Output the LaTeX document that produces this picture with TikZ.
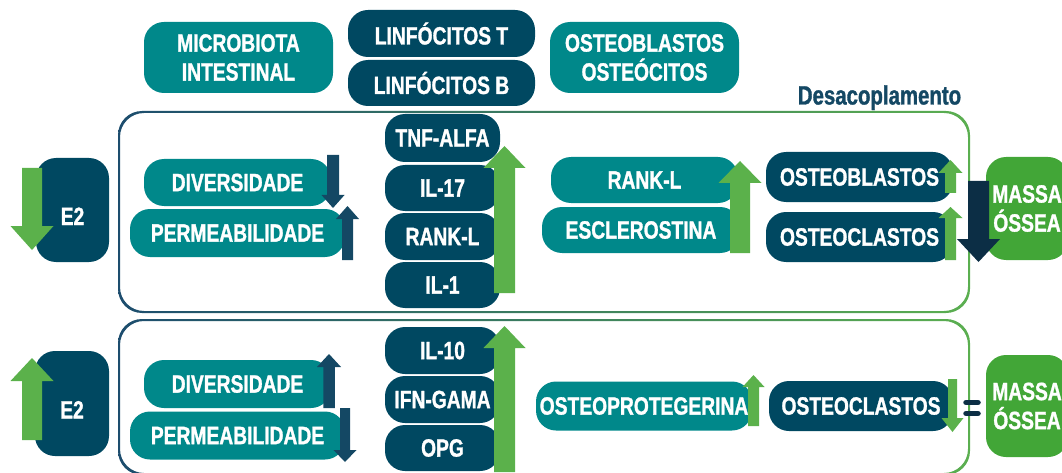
\documentclass[tikz,border=0pt]{standalone}
\usepackage{fontspec}
\setmainfont{Liberation Sans}[FakeStretch=0.77, BoldFeatures={FakeBold=1.2}]
\usepackage{tikz}
\usepackage{xcolor}

\definecolor{verdeagua}{RGB}{0,136,138}
\definecolor{azulesc}{RGB}{0,72,97}
\definecolor{setaverde}{RGB}{91,177,75}
\definecolor{setaazul}{RGB}{20,72,100}
\definecolor{setaescura}{RGB}{12,46,69}
\definecolor{verdemassa}{RGB}{66,166,55}
\definecolor{molduraA}{RGB}{28,76,110}
\definecolor{molduraB}{RGB}{34,148,208}
\definecolor{molduraC}{RGB}{92,176,80}

% seta em bloco vertical: cor, x, cauda, base da ponta, ponta, meia largura haste, meia largura ponta
\newcommand{\setabloco}[7]{\fill[#1] ({#2-#6},#3) -- ({#2+#6},#3) -- ({#2+#6},#4) -- ({#2+#7},#4) -- (#2,#5) -- ({#2-#7},#4) -- ({#2-#6},#4) -- cycle;}

\tikzset{
  caixa/.style={rounded corners=20pt, text=white, font=\bfseries\fontsize{25}{29}\selectfont, inner sep=0pt, align=center},
  tealbox/.style={caixa, fill=verdeagua},
  navybox/.style={caixa, fill=azulesc},
  massbox/.style={caixa, fill=verdemassa},
}

\begin{document}
\begin{tikzpicture}[x=1pt,y=-1pt]
\useasboundingbox (0,0) rectangle (1062,473);
\clip (0,0) rectangle (1062,473);

% molduras
\begin{scope}[even odd rule, rounded corners=24pt]
\clip (118,111) rectangle (970,313) (120,113) rectangle (968,311);
\shade[left color=molduraA, middle color=molduraB, right color=molduraC, sharp corners] (110,100) rectangle (980,320);
\end{scope}
\begin{scope}[even odd rule, rounded corners=24pt]
\clip (118,319) rectangle (970,475) (120,321) rectangle (968,473);
\shade[left color=molduraA, middle color=molduraB, right color=molduraC, sharp corners] (110,310) rectangle (980,480);
\end{scope}

% linha superior
\node[tealbox, minimum width=189pt, minimum height=71pt] (micro) at (238.5,57.5) {MICROBIOTA\\INTESTINAL};
\node[navybox, minimum width=187pt, minimum height=47pt] (linfT) at (441.5,33.5) {LINFÓCITOS T};
\node[navybox, minimum width=187pt, minimum height=46pt] (linfB) at (441.5,83) {LINFÓCITOS B};
\node[tealbox, minimum width=189pt, minimum height=71pt] (osteoc) at (644.5,57.5) {OSTEOBLASTOS\\OSTEÓCITOS};
\node[font=\bfseries\fontsize{26.5}{30}\selectfont, text=setaazul, anchor=base, inner sep=0pt] (desac) at (879.5,104.5) {Desacoplamento};

% E2 baixo
\node[navybox, minimum width=73pt, minimum height=104pt] (e2baixo) at (72.5,210) {\raisebox{-15pt}[0pt][0pt]{E2}};
\node[tealbox, minimum width=187pt, minimum height=47pt] (div1) at (237.5,182.5) {DIVERSIDADE};
\node[tealbox, minimum width=215pt, minimum height=48pt] (perm1) at (237.5,233) {PERMEABILIDADE};
\node[navybox, minimum width=115pt, minimum height=48pt] (tnf) at (442.5,138) {TNF-ALFA};
\node[navybox, minimum width=115pt, minimum height=46pt] (il17) at (442.5,188) {IL-17};
\node[navybox, minimum width=115pt, minimum height=47pt] (rankA) at (442.5,236.5) {RANK-L};
\node[navybox, minimum width=115pt, minimum height=46pt] (il1) at (442.5,285) {IL-1};
\node[tealbox, minimum width=187pt, minimum height=46pt] (rankB) at (644.5,180) {RANK-L};
\node[tealbox, minimum width=198pt, minimum height=46pt] (escl) at (641,230) {ESCLEROSTINA};
\node[navybox, minimum width=187pt, minimum height=50pt] (oblast) at (859.5,177) {OSTEOBLASTOS};
\node[navybox, minimum width=187pt, minimum height=50pt] (oclastA) at (859.5,237) {OSTEOCLASTOS};
\node[massbox, minimum width=82pt, minimum height=103pt] (massaA) at (1027,208.5) {MASSA\\ÓSSEA};

% E2 alto
\node[navybox, minimum width=74pt, minimum height=105pt] (e2alto) at (72,403.5) {\raisebox{-15pt}[0pt][0pt]{E2}};
\node[tealbox, minimum width=187pt, minimum height=48pt] (div2) at (237.5,384) {DIVERSIDADE};
\node[tealbox, minimum width=215pt, minimum height=48pt] (perm2) at (237.5,435.5) {PERMEABILIDADE};
\node[navybox, minimum width=115pt, minimum height=47pt] (il10) at (442.5,350.5) {IL-10};
\node[navybox, minimum width=115pt, minimum height=47pt] (ifn) at (442.5,399.5) {IFN-GAMA};
\node[navybox, minimum width=115pt, minimum height=46pt] (opg) at (442.5,448) {OPG};
\node[tealbox, minimum width=216pt, minimum height=49pt] (oprot) at (644,406) {OSTEOPROTEGERINA};
\node[navybox, minimum width=184pt, minimum height=50pt] (oclastB) at (861,406) {OSTEOCLASTOS};
\node[massbox, minimum width=82pt, minimum height=102pt] (massaB) at (1027,406) {MASSA\\ÓSSEA};

% setas
\setabloco{setaverde}{32}{168}{226}{250}{10}{21.5}
\setabloco{setaazul}{333}{155}{195}{208}{6}{11.5}
\setabloco{setaazul}{347.5}{260}{219}{206}{5.5}{11.5}
\setabloco{setaverde}{504.5}{293}{168}{146}{10.5}{21}
\setabloco{setaverde}{740}{253}{183}{161}{10}{21.5}
\setabloco{setaverde}{950.5}{193}{173}{160}{5.5}{12}
\setabloco{setaverde}{950.5}{260}{218}{207}{5.5}{12}
\setabloco{setaescura}{978.5}{181}{239}{262}{10.5}{21.5}

\setabloco{setaverde}{32}{440}{381}{358}{10}{21.5}
\setabloco{setaazul}{329}{408}{367}{354}{5.75}{12}
\setabloco{setaazul}{345}{408}{450}{462}{5}{11.5}
\setabloco{setaverde}{504.5}{472}{348}{326}{10.5}{21}
\setabloco{setaverde}{753.5}{426}{387}{375}{5.5}{11}
\setabloco{setaverde}{952.5}{379}{418}{432}{4.5}{11}

% sinal de igual
\draw[setaescura, line width=5.5pt, line cap=round] (966,402.5) -- (978,402.5);
\draw[setaescura, line width=5.5pt, line cap=round] (966,413.5) -- (978,413.5);
\end{tikzpicture}
\end{document}
